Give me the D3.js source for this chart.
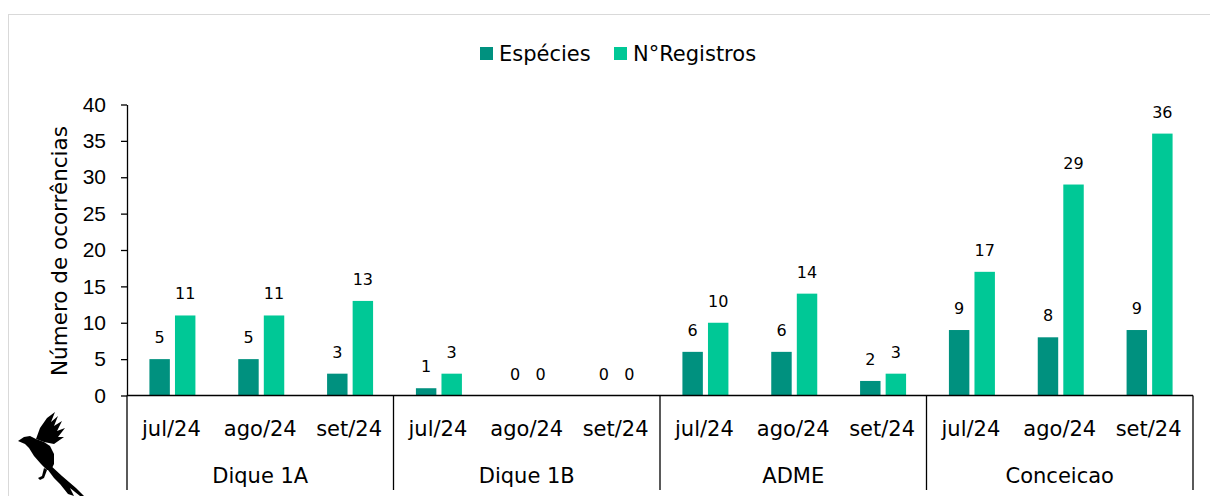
<!DOCTYPE html>
<html>
<head>
<meta charset="utf-8">
<title>Ocorrências por área</title>
<script src="https://d3js.org/d3.v7.min.js"></script>
<style>
body{
	margin: 0;
	background: #fff;
	font-family: "DejaVu Sans", sans-serif;
}
</style>
</head>
<body>
<div id="chart"></div>
<script>

// data
var sites = ["Dique 1A", "Dique 1B", "ADME", "Conceicao"];
var months = ["jul/24", "ago/24", "set/24"];
var seriesNames = ["Espécies", "N°Registros"];
var especies = [5, 5, 3, 1, 0, 0, 6, 6, 2, 9, 8, 9];
var registros = [11, 11, 13, 3, 0, 0, 10, 14, 3, 17, 29, 36];
var yTicks = [0, 5, 10, 15, 20, 25, 30, 35, 40];

var colors = ["#00917f", "#00c896"];

var W = 1210, H = 496;
var plotLeft = 127, plotRight = 1193, plotTop = 104.5, base = 395.5;

var svg = d3.select("#chart").append("svg")
	.attr("width", W)
	.attr("height", H);

// outer frame (runs off the picture on the right / bottom)
svg.append("rect")
	.attr("x", 8.5).attr("y", 14.5)
	.attr("width", 1400).attr("height", 600)
	.attr("fill", "none")
	.attr("stroke", "#d9d9d9");

// rows: one per site/month pair
var rows = [];
sites.forEach(function(s, i) {
	months.forEach(function(m, j) {
		var k = i * months.length + j;
		rows.push({site: s, month: m, key: s + "|" + m, values: [especies[k], registros[k]]});
	});
});

var x = d3.scaleBand()
	.domain(rows.map(d => d.key))
	.range([plotLeft, plotRight]);

var xs = d3.scaleBand()
	.domain(seriesNames)
	.range([-22, 24])
	.paddingInner(0.2);

var y = d3.scaleLinear()
	.domain([0, 40])
	.range([base, plotTop]);

// y axis
var yAxis = svg.append("g")
	.attr("transform", "translate(" + plotLeft + ",0)")
	.call(d3.axisLeft(y).tickValues(yTicks).tickSize(6).tickPadding(15).tickSizeOuter(0));
yAxis.select(".domain").attr("stroke", "#000").attr("stroke-width", 1.3);
yAxis.selectAll(".tick line").attr("stroke", "#000").attr("stroke-width", 1.3);
yAxis.selectAll("text")
	.attr("font-family", null)
	.attr("font-size", 21)
	.attr("fill", "#000");

svg.append("text")
	.attr("transform", "translate(67," + ((plotTop + base) / 2 + 1) + ") rotate(-90)")
	.attr("text-anchor", "middle")
	.attr("font-size", 21.5)
	.text("Número de ocorrências");

// bars
var g = svg.append("g")
	.selectAll("g")
	.data(rows)
	.join("g")
	.attr("transform", d => "translate(" + (x(d.key) + x.bandwidth() / 2) + ",0)");

g.selectAll("rect")
	.data(d => d.values.map((v, i) => ({name: seriesNames[i], value: v, i: i})))
	.join("rect")
	.attr("x", d => xs(d.name))
	.attr("width", xs.bandwidth())
	.attr("y", d => y(d.value))
	.attr("height", d => base - y(d.value))
	.attr("fill", d => colors[d.i]);

g.selectAll("text.val")
	.data(d => d.values.map((v, i) => ({name: seriesNames[i], value: v, i: i})))
	.join("text")
	.attr("class", "val")
	.attr("x", d => xs(d.name) + xs.bandwidth() / 2)
	.attr("y", d => y(d.value) - 16)
	.attr("text-anchor", "middle")
	.attr("font-size", 16)
	.text(d => d.value);

// x axis: baseline, month labels, site labels and separators
svg.append("line")
	.attr("x1", plotLeft).attr("x2", plotRight)
	.attr("y1", base).attr("y2", base)
	.attr("stroke", "#000").attr("stroke-width", 1.3);

svg.append("g")
	.selectAll("text")
	.data(rows)
	.join("text")
	.attr("x", d => x(d.key) + x.bandwidth() / 2)
	.attr("y", 436)
	.attr("text-anchor", "middle")
	.attr("font-size", 21)
	.text(d => d.month);

var siteW = (plotRight - plotLeft) / sites.length;
svg.append("g")
	.selectAll("text")
	.data(sites)
	.join("text")
	.attr("x", (d, i) => plotLeft + siteW * (i + 0.5))
	.attr("y", 483)
	.attr("text-anchor", "middle")
	.attr("font-size", 21)
	.text(d => d);

svg.append("g")
	.selectAll("line")
	.data(d3.range(sites.length + 1))
	.join("line")
	.attr("x1", i => plotLeft + siteW * i)
	.attr("x2", i => plotLeft + siteW * i)
	.attr("y1", base)
	.attr("y2", 490)
	.attr("stroke", "#000").attr("stroke-width", 1.3);

// legend
var legend = svg.append("g").attr("transform", "translate(480,53)");
var lx = [0, 134];
seriesNames.forEach(function(n, i) {
	legend.append("rect")
		.attr("x", lx[i]).attr("y", -6)
		.attr("width", 13).attr("height", 13)
		.attr("fill", colors[i]);
	legend.append("text")
		.attr("x", lx[i] + 19).attr("y", 8)
		.attr("font-size", 21)
		.text(n);
});

// bird logo (decoration)
var bird = svg.append("g").attr("transform", "translate(14,412)").attr("fill", "#000");
bird.append("path")
	.attr("d", "M4,29 L10,25 L16,24 L22,27 L30,30 L36,34 L40,42 L40,52 L37,58 L33,58 L27,52 L20,44 L15,36 L11,32 Z");
bird.append("path")
	.attr("d", "M22,27 L26,16 L33,6 L41,0 L37,10 L44,4 L40,14 L48,9 L43,19 L51,16 L44,25 L50,25 L40,32 L30,30 Z");
bird.append("path")
	.attr("d", "M35,52 L48,64 L62,76 L70,84 L66,84 L56,76 L60,84 L54,82 L46,72 L40,66 L34,58 Z");
bird.append("path")
	.attr("d", "M30,56 L28,64 L24,66 L26,68 L30,66 L33,58 Z");
</script>
</body>
</html>
